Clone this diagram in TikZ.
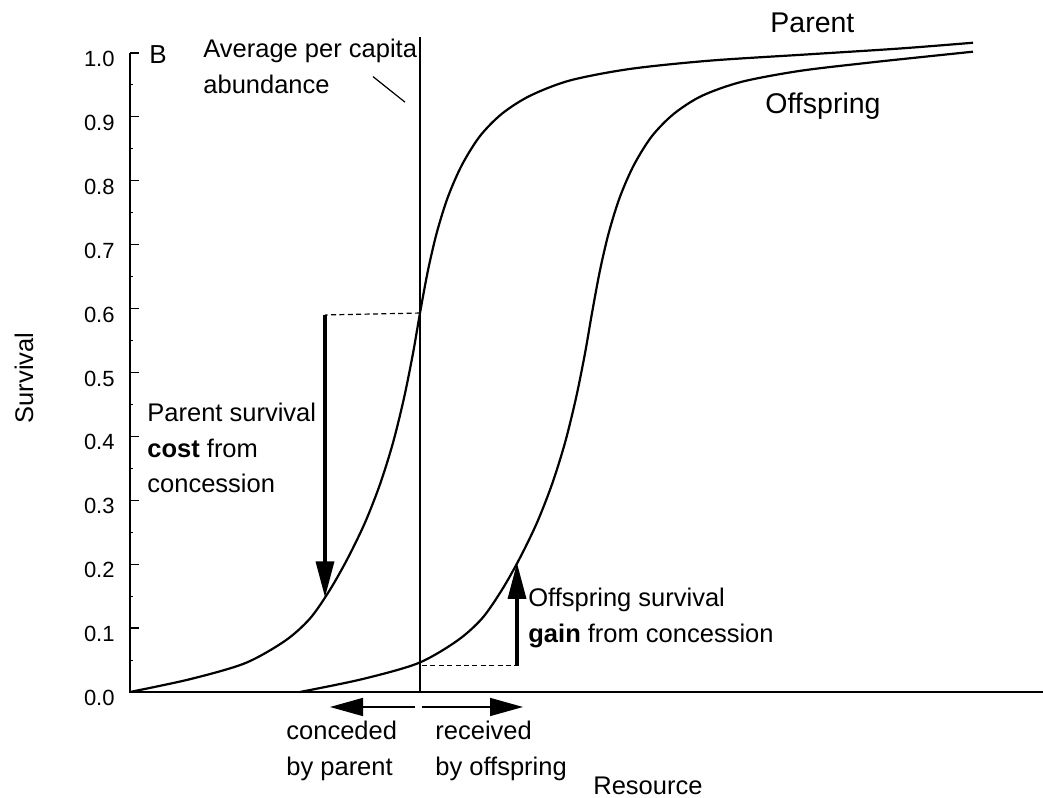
\documentclass[tikz,border=0pt]{standalone}
\usepackage{fontspec}
\setmainfont{Liberation Sans}
\usetikzlibrary{arrows.meta, positioning}
\tikzstyle{survcurve} = [line width=1.1pt]
\tikzstyle{axisline} = [line width=0.8pt]
\tikzstyle{dashguide} = [line width=0.6pt, dash pattern=on 2.5pt off 1.7pt]
\tikzstyle{bigarrow} = [line width=1.7pt, -{Triangle[length=18pt, width=9pt]}]
\tikzstyle{sidearrow} = [line width=0.8pt, -{Triangle[length=16.5pt, width=9pt]}]
\tikzstyle{note} = [inner sep=0, align=left, anchor=north west, font=\fontsize{12.75}{17.75}\selectfont]
\tikzstyle{ticklabel} = [inner sep=0, anchor=east, yshift=-3pt, font=\fontsize{11}{12}\selectfont]
\tikzstyle{curvename} = [inner sep=0, anchor=base west, font=\fontsize{14.25}{16}\selectfont]

\begin{document}
\begin{tikzpicture}[x=0.5pt, y=319.5pt]
    \fill[white] (-130,-0.1659) rectangle (913,1.0829);
    \useasboundingbox (-130,-0.1659) rectangle (913,1.0829);

    % axes and ticks
    \draw[axisline] (0,1) -- (0,0) -- (913,0);
    \foreach \v [count=\i] in {0.0,0.1,0.2,0.3,0.4,0.5,0.6,0.7,0.8,0.9,1.0} {
        \draw[line width=0.6pt] (0,\v) -- (9,\v);
        \node (tick\i) [ticklabel] at (-15,\v) {\v};
    }
    \foreach \v in {0.05,0.15,0.25,0.35,0.45,0.55,0.65,0.75,0.85,0.95}
        \draw[line width=0.5pt] (0,\v) -- (3,\v);
    \node (ylab) [rotate=90, inner sep=0, font=\fontsize{12.75}{15}\selectfont] at (-106,0.4914) {Survival};
    \node (xlab) [inner sep=0, anchor=base west, font=\fontsize{12.75}{15}\selectfont] at (463,-0.1600) {Resource};
    \node (panel) [inner sep=0, font=\fontsize{13}{15}\selectfont] at (28,0.998) {B};

    % survival curves
    \draw[survcurve] plot[smooth] coordinates {(0,0) (60,0.02) (115,0.045) (155,0.08) (180,0.115)
        (200,0.16) (218,0.21) (235,0.265) (250,0.325) (263,0.39) (274,0.46) (283,0.53) (290,0.593)
        (298,0.66) (307,0.72) (318,0.775) (332,0.825) (350,0.87) (372,0.905) (400,0.933)
        (440,0.957) (500,0.975) (580,0.988) (680,0.998) (770,1.007) (843,1.016)};
    \draw[survcurve] plot[smooth] coordinates {(170,0) (232,0.02) (288,0.045) (327,0.08) (352,0.115)
        (372,0.16) (390,0.21) (407,0.265) (422,0.325) (435,0.39) (446,0.46) (455,0.53) (462,0.593)
        (470,0.66) (479,0.72) (490,0.775) (504,0.825) (522,0.87) (544,0.905) (572,0.933)
        (612,0.955) (670,0.972) (740,0.985) (800,0.995) (843,1.002)};
    \node (parent) [curvename] at (640,1.0313) {Parent};
    \node (offspring) [curvename] at (635,0.906) {Offspring};

    % average abundance
    \coordinate (avgtop) at (290,1.025);
    \coordinate (avgbot) at (290,0);
    \draw[line width=0.6pt] (avgtop) -- (avgbot);
    \node (avg) [note] at (73,1.0224) {Average per capita\\abundance};
    \coordinate (ptr1) at (243,0.963);
    \coordinate (ptr2) at (275,0.923);
    \draw[line width=0.6pt] (ptr1) -- (ptr2);

    % parent cost
    \coordinate (pcross) at (290,0.593);
    \coordinate (ptop) at (195,0.590);
    \coordinate (ptip) at (195,0.148);
    \draw[dashguide] (pcross) -- (ptop);
    \draw[bigarrow] (ptop) -- (ptip);
    \node (cost) [note] at (17,0.4523) {Parent survival\\\textbf{cost} from\\concession};

    % offspring gain
    \coordinate (ocross) at (292,0.041);
    \coordinate (obase) at (387,0.041);
    \coordinate (otip) at (387,0.202);
    \draw[dashguide] (ocross) -- (obase);
    \draw[bigarrow] (obase) -- (otip);
    \node (gain) [note] at (398,0.1628) {Offspring survival\\\textbf{gain} from concession};

    % resource transfer
    \coordinate (lstart) at (285,-0.0235);
    \coordinate (lend) at (200,-0.0235);
    \coordinate (rstart) at (292,-0.0235);
    \coordinate (rend) at (393,-0.0235);
    \draw[sidearrow] (lstart) -- (lend);
    \draw[sidearrow] (rstart) -- (rend);
    \node (conceded) [note] at (156,-0.0454) {conceded\\by parent};
    \node (received) [note] at (305,-0.0454) {received\\by offspring};
\end{tikzpicture}
\end{document}
